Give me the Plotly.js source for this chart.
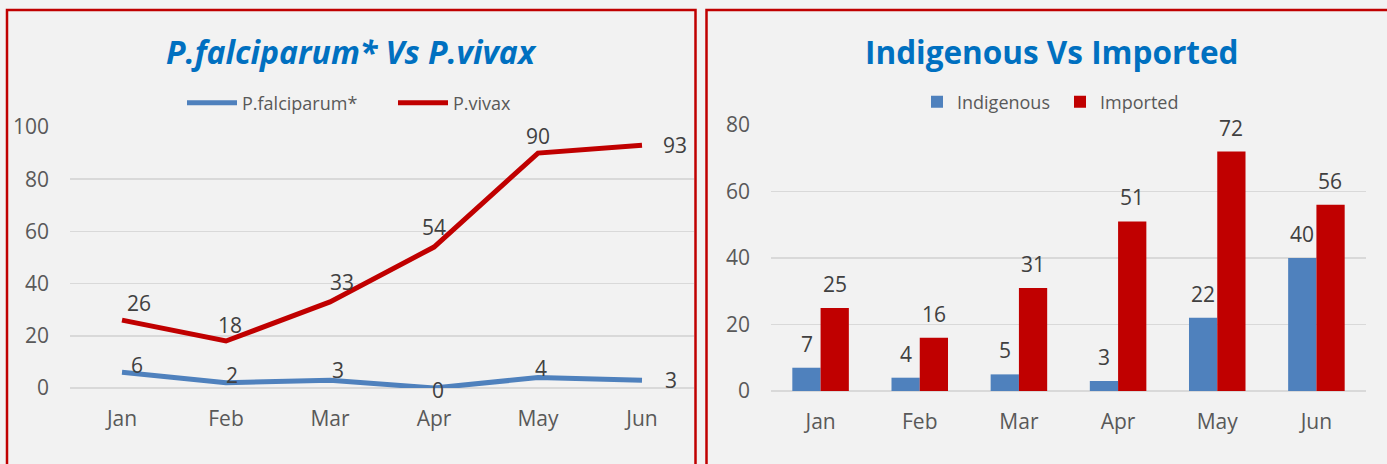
<!DOCTYPE html>
<html>
<head>
<meta charset="utf-8">
<script src="https://cdn.plot.ly/plotly-3.0.1.min.js"></script>
<style>html,body{margin:0;padding:0;background:#f2f2f2;}#chart{width:1387px;height:464px;}</style>
</head>
<body>
<div id="chart"></div>
<script>
// ---- data ----
const months = ['Jan', 'Feb', 'Mar', 'Apr', 'May', 'Jun'];
const falciparum = [6, 2, 3, 0, 4, 3];
const vivax = [26, 18, 33, 54, 90, 93];
const indigenous = [7, 4, 5, 3, 22, 40];
const imported = [25, 16, 31, 51, 72, 56];
const leftTicks = [0, 20, 40, 60, 80, 100];
const rightTicks = [0, 20, 40, 60, 80];

// ---- styling ----
const W = 1387, H = 464;
const BLUE = '#4f81bd', RED = '#c00000', TITLE = '#0070c0';
const FONT = 'Open Sans, Liberation Sans, sans-serif';
const px = v => v / W, py = v => 1 - v / H;

// label offsets (pixels) for the line chart
const falcShift = [[15, -7], [6, -8], [8, -10], [4, 2], [3, -10], [29, 0]];
const vivaxShift = [[17, -17], [4, -16], [12, -20], [0, -20], [0, -17], [33, 0]];

const traces = [
  {type: 'scatter', mode: 'lines', name: 'P.falciparum*', x: months, y: falciparum,
   xaxis: 'x', yaxis: 'y', line: {color: BLUE, width: 5}, legend: 'legend', hoverinfo: 'skip'},
  {type: 'scatter', mode: 'lines', name: 'P.vivax', x: months, y: vivax,
   xaxis: 'x', yaxis: 'y', line: {color: RED, width: 5}, legend: 'legend', hoverinfo: 'skip'},
  {type: 'bar', name: 'Indigenous', x: months, y: indigenous, xaxis: 'x2', yaxis: 'y2',
   marker: {color: BLUE}, legend: 'legend2', hoverinfo: 'skip'},
  {type: 'bar', name: 'Imported', x: months, y: imported, xaxis: 'x2', yaxis: 'y2',
   marker: {color: RED}, legend: 'legend2', hoverinfo: 'skip'}
];

const annotations = [];
const labelFont = {family: FONT, size: 21, color: '#404040'};
months.forEach((m, i) => {
  annotations.push({xref: 'x', yref: 'y', x: m, y: falciparum[i], text: String(falciparum[i]),
    showarrow: false, xshift: falcShift[i][0], yshift: -falcShift[i][1], font: labelFont});
  annotations.push({xref: 'x', yref: 'y', x: m, y: vivax[i], text: String(vivax[i]),
    showarrow: false, xshift: vivaxShift[i][0], yshift: -vivaxShift[i][1], font: labelFont});
  annotations.push({xref: 'x2', yref: 'y2', x: m, y: indigenous[i], text: String(indigenous[i]),
    showarrow: false, xshift: -14, yshift: 24, font: labelFont});
  annotations.push({xref: 'x2', yref: 'y2', x: m, y: imported[i], text: String(imported[i]),
    showarrow: false, xshift: 14, yshift: 24, font: labelFont});
});
annotations.push({xref: 'paper', yref: 'paper', x: px(351), y: py(52), xanchor: 'center', yanchor: 'middle',
  showarrow: false, text: '<b><i>P.falciparum* Vs P.vivax</i></b>', font: {family: FONT, size: 32, color: TITLE}});
annotations.push({xref: 'paper', yref: 'paper', x: px(1051), y: py(52), xanchor: 'center', yanchor: 'middle',
  showarrow: false, text: '<b>Indigenous Vs Imported</b>', font: {family: FONT, size: 31.5, color: TITLE}});

const axisFont = {family: FONT, size: 21, color: '#595959'};
const xCommon = {type: 'category', showgrid: false, showline: false, zeroline: false,
  tickfont: axisFont, ticks: '', ticklabelstandoff: 16, fixedrange: true, range: [-0.5, 5.5]};
const yCommon = {showline: false, gridcolor: '#d9d9d9', gridwidth: 1.5, zeroline: true,
  zerolinecolor: '#d9d9d9', zerolinewidth: 1.5, tickfont: axisFont, ticks: '',
  ticklabelstandoff: 20, fixedrange: true};

const layout = {
  width: W, height: H,
  margin: {l: 0, r: 0, t: 0, b: 0},
  paper_bgcolor: '#f2f2f2', plot_bgcolor: 'rgba(0,0,0,0)',
  font: {family: FONT, color: '#595959'},
  barmode: 'group', bargap: 0.43, bargroupgap: 0,
  xaxis: Object.assign({}, xCommon, {domain: [px(70), px(694)], anchor: 'y'}),
  yaxis: Object.assign({}, yCommon, {domain: [py(388), py(127)], range: [0, 100],
    tickvals: leftTicks, anchor: 'x'}),
  xaxis2: Object.assign({}, xCommon, {domain: [px(771), px(1366)], anchor: 'y2'}),
  yaxis2: Object.assign({}, yCommon, {domain: [py(391), py(125)], range: [0, 80],
    tickvals: rightTicks, anchor: 'x2'}),
  legend: {orientation: 'h', x: px(182), y: py(103), xanchor: 'left', yanchor: 'middle',
    bgcolor: 'rgba(0,0,0,0)', font: {family: FONT, size: 18, color: '#595959'},
    itemwidth: 50, entrywidth: 146, entrywidthmode: 'pixels'},
  legend2: {orientation: 'h', x: px(917), y: py(102), xanchor: 'left', yanchor: 'middle',
    bgcolor: 'rgba(0,0,0,0)', font: {family: FONT, size: 18, color: '#595959'},
    itemwidth: 30, entrywidth: 98, entrywidthmode: 'pixels'},
  showlegend: true,
  annotations: annotations,
  shapes: [
    {type: 'rect', xref: 'paper', yref: 'paper', x0: px(7), x1: px(695.5), y0: -0.2, y1: py(10),
     line: {color: RED, width: 2.5}, fillcolor: 'rgba(0,0,0,0)', layer: 'below'},
    {type: 'rect', xref: 'paper', yref: 'paper', x0: px(706.5), x1: 1.2, y0: -0.2, y1: py(10),
     line: {color: RED, width: 2.5}, fillcolor: 'rgba(0,0,0,0)', layer: 'below'}
  ],
  hovermode: false
};

Plotly.newPlot('chart', traces, layout, {staticPlot: true, displayModeBar: false});
</script>
</body>
</html>
